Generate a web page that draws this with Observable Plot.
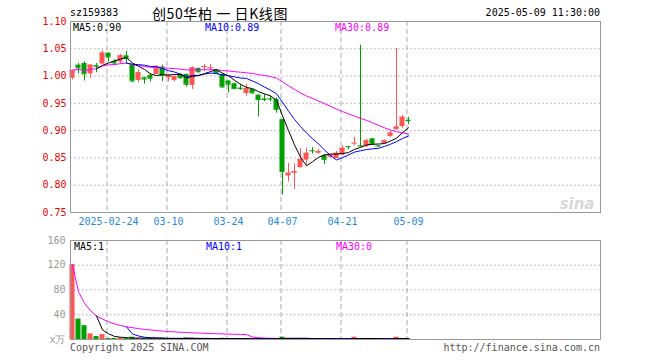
<!DOCTYPE html>
<html><head><meta charset="utf-8">
<script src="https://cdn.jsdelivr.net/npm/d3@7"></script>
<script src="https://cdn.jsdelivr.net/npm/@observablehq/plot@0.6"></script>
<style>
body{margin:0;background:#fff;}
#wrap{position:relative;width:660px;height:360px;overflow:hidden;font-family:"DejaVu Sans Mono",monospace;font-size:10px;background:#fff;}
#wrap svg{position:absolute;left:0;}
.t{position:absolute;white-space:pre;line-height:12px;}
</style></head><body><div id="wrap"></div>
<script>
// ---- data ----
const dates = ["2025-02-14","2025-02-17","2025-02-18","2025-02-19","2025-02-20","2025-02-21",
"2025-02-24","2025-02-25","2025-02-26","2025-02-27","2025-02-28",
"2025-03-03","2025-03-04","2025-03-05","2025-03-06","2025-03-07",
"2025-03-10","2025-03-11","2025-03-12","2025-03-13","2025-03-14",
"2025-03-17","2025-03-18","2025-03-19","2025-03-20","2025-03-21",
"2025-03-24","2025-03-25","2025-03-26","2025-03-27","2025-03-28",
"2025-03-31","2025-04-01","2025-04-02","2025-04-03",
"2025-04-07","2025-04-08","2025-04-09","2025-04-10","2025-04-11",
"2025-04-14","2025-04-15","2025-04-16","2025-04-17","2025-04-18",
"2025-04-21","2025-04-22","2025-04-23","2025-04-24","2025-04-25",
"2025-04-28","2025-04-29","2025-04-30",
"2025-05-06","2025-05-07","2025-05-08","2025-05-09"];
const open  = [0.996,1.020,1.023,1.004,1.0195,1.022,1.042,1.027,1.026,1.037,
1.020,0.992,0.997,1.001,1.003,1.0165,0.997,0.992,1.003,1.003,
0.983,1.014,1.016,1.014,1.0105,1.003,0.991,0.986,0.978,0.968,
0.9755,0.965,0.958,0.9585,0.957,0.920,0.817,0.822,0.832,0.846,
0.8635,0.8585,0.854,0.851,0.849,0.8555,0.8708,0.8765,0.8725,0.8708,
0.885,0.8725,0.8758,0.8893,0.9017,0.9077,0.9189];
const high  = [1.0105,1.023,1.026,1.021,1.023,1.046,1.042,1.030,1.040,1.045,
1.020,1.011,0.998,1.004,1.019,1.020,1.003,1.000,1.004,1.004,
1.017,1.015,1.0215,1.0215,1.012,1.003,0.991,0.987,0.985,0.985,
0.9755,0.966,0.966,0.963,0.960,0.920,0.840,0.839,0.867,0.868,
0.869,0.865,0.856,0.856,0.862,0.872,0.871,0.888,1.0566,0.8843,
0.886,0.8725,0.883,0.8985,1.0504,0.9275,0.9244];
const low   = [0.993,1.004,0.991,0.996,1.006,1.022,1.026,1.019,1.022,1.022,
0.988,0.988,0.985,0.989,1.003,0.990,0.9895,0.989,0.994,0.980,
0.9755,1.005,1.009,1.009,1.004,0.978,0.969,0.9755,0.974,0.963,
0.968,0.925,0.953,0.953,0.932,0.782,0.806,0.792,0.832,0.837,
0.857,0.857,0.838,0.850,0.849,0.8537,0.865,0.872,0.8695,0.869,
0.875,0.869,0.875,0.8875,0.9017,0.9046,0.911];
const close = [1.0105,1.015,1.004,1.020,1.018,1.042,1.035,1.024,1.037,1.032,
0.991,1.006,0.9945,0.996,1.017,1.001,1.001,0.999,0.997,0.985,
1.015,1.008,1.0175,1.015,1.005,0.980,0.985,0.977,0.977,0.977,
0.969,0.957,0.957,0.958,0.939,0.825,0.822,0.825,0.847,0.8585,
0.863,0.8616,0.8474,0.855,0.8585,0.8677,0.8705,0.877,0.872,0.8813,
0.875,0.872,0.8813,0.8954,0.9065,0.9244,0.9185];
const volume = [121,33,22.4,9.1,4.8,8,1.6,1.6,2.4,1.6,
3.7,2.0,1.6,1.6,1.6,2.4,1.2,1.2,1.6,2.4,
2.4,1.2,1.2,1.2,1.2,2.0,1.6,1.2,1.0,1.2,
1.0,1.6,1.0,1.0,1.2,3.7,2.0,1.6,1.6,1.2,
1.0,1.0,1.0,0.8,1.0,1.0,1.0,3.7,1.2,1.0,
1.0,0.8,1.0,1.2,3.7,1.6,1.0];
const priceTicks = [0.75,0.80,0.85,0.90,0.95,1.00,1.05,1.10];
const priceGrid  = [0.80,0.85,0.90,0.95,1.00,1.05];
const volTicks   = [0,40,80,120,160];
const volTickLabels = ["x万","40","80","120","160"];
const volGrid    = [40,80,120];
const dateTicks  = ["2025-02-24","2025-03-10","2025-03-24","2025-04-07","2025-04-21","2025-05-09"];
const dateTickLabels = ["2025-02-24","03-10","03-24","04-07","04-21","05-09"];
const priceMaLabels = ["MA5:0.90","MA10:0.89","MA30:0.89"];
const volMaLabels   = ["MA5:1","MA10:1","MA30:0"];
const maColors = ["#000000","#0000ff","#ff00ff"];
const code = "sz159383";
const title = "创50华柏 一 日K线图";
const stamp = "2025-05-09 11:30:00";

// ---- build ----
const UP = "#ff5555", DOWN = "#00a000", GRID = "#aaaaaa", FRAME = "#999999";
const rows = dates.map((d, i) => ({i, date: d, open: open[i], high: high[i], low: low[i], close: close[i], vol: volume[i], up: close[i] >= open[i]}));
const tickIdx = dateTicks.map(d => dates.indexOf(d));
const xScale = {type: "linear", domain: [-1/3, 88]};
const col = d => d.up ? UP : DOWN;
const font = {fontFamily: "DejaVu Sans Mono, monospace", fontSize: "10px", background: "transparent", overflow: "visible"};

const price = Plot.plot({
  width: 660, height: 232, marginTop: 21, marginBottom: 20, marginLeft: 70, marginRight: 60,
  style: font,
  x: {...xScale, axis: null},
  y: {domain: [0.75, 1.10], axis: null},
  marks: [
    Plot.ruleY(priceGrid, {stroke: GRID, strokeDasharray: "1.5,2.5"}),
    Plot.ruleX(tickIdx, {stroke: GRID, strokeDasharray: "5,3", dx: -1.5}),
    Plot.axisY(priceTicks, {tickFormat: d3.format(".2f"), tickSize: 0, tickPadding: 4, color: "#ee0000", label: null}),
    Plot.axisX(tickIdx, {tickFormat: (d, k) => dateTickLabels[k], tickSize: 0, tickPadding: 5, color: "#1f8ae0", label: null}),
    Plot.ruleX(rows, {x: "i", y1: "low", y2: "high", stroke: col, strokeWidth: 1}),
    Plot.rect(rows, {x1: d => d.i - 0.42, x2: d => d.i + 0.42, y1: "open", y2: "close", fill: col}),
    Plot.ruleY(rows, {y: "close", x1: d => d.i - 0.42, x2: d => d.i + 0.42, stroke: col}),
    Plot.lineY(rows, Plot.windowY({k: 30, anchor: "end", reduce: "mean", strict: false}, {x: "i", y: "close", stroke: maColors[2], strokeWidth: 1})),
    Plot.lineY(rows, Plot.windowY({k: 10, anchor: "end", reduce: "mean", strict: true}, {x: "i", y: "close", stroke: maColors[1], strokeWidth: 1})),
    Plot.lineY(rows, Plot.windowY({k: 5, anchor: "end", reduce: "mean", strict: true}, {x: "i", y: "close", stroke: maColors[0], strokeWidth: 1})),
    Plot.text(["sina"], {frameAnchor: "bottom-right", dx: -6, dy: -4, fill: "#d8d8d8", fontSize: 15, fontWeight: "bold", fontStyle: "italic", fontFamily: "DejaVu Sans"}),
    Plot.frame({stroke: FRAME})
  ]
});

const vol = Plot.plot({
  width: 660, height: 128, marginTop: 8, marginBottom: 21, marginLeft: 70, marginRight: 60,
  style: font,
  x: {...xScale, axis: null},
  y: {domain: [0, 160], axis: null},
  marks: [
    Plot.ruleY(volGrid, {stroke: GRID, strokeDasharray: "1.5,2.5"}),
    Plot.ruleX(tickIdx, {stroke: GRID, strokeDasharray: "5,3", dx: -1.5}),
    Plot.axisY(volTicks, {tickFormat: (d, k) => volTickLabels[k], tickSize: 0, tickPadding: 5, color: "#999999", label: null}),
    Plot.rect(rows, {x1: d => d.i - 0.42, x2: d => d.i + 0.42, y1: 0, y2: "vol", fill: col}),
    Plot.lineY(rows, Plot.windowY({k: 30, anchor: "end", reduce: "mean", strict: false}, {x: "i", y: "vol", stroke: maColors[2], strokeWidth: 1})),
    Plot.lineY(rows, Plot.windowY({k: 10, anchor: "end", reduce: "mean", strict: true}, {x: "i", y: "vol", stroke: maColors[1], strokeWidth: 1})),
    Plot.lineY(rows, Plot.windowY({k: 5, anchor: "end", reduce: "mean", strict: true}, {x: "i", y: "vol", stroke: maColors[0], strokeWidth: 1})),
    Plot.frame({stroke: FRAME})
  ]
});

const wrap = document.getElementById("wrap");
price.style.top = "0px";
vol.style.top = "232px";
wrap.appendChild(price);
wrap.appendChild(vol);

function label(text, x, cy, opts = {}) {
  const el = document.createElement("div");
  el.className = "t";
  el.textContent = text;
  el.style.top = (cy - 6) + "px";
  if (opts.right) el.style.right = (660 - x) + "px"; else el.style.left = x + "px";
  if (opts.color) el.style.color = opts.color;
  if (opts.font) el.style.fontFamily = opts.font;
  if (opts.spacing) el.style.letterSpacing = opts.spacing;
  if (opts.size) { el.style.fontSize = opts.size + "px"; el.style.lineHeight = (opts.size + 2) + "px"; el.style.top = (cy - (opts.size + 2) / 2) + "px"; }
  wrap.appendChild(el);
}
label(code, 70, 13);
label(title, 152, 13, {font: "'Noto Sans CJK SC', sans-serif", size: 14, spacing: "0.6px"});
label(stamp, 600, 13, {right: true});
const maX = [73, 205, 335];
priceMaLabels.forEach((t, k) => label(t, maX[k], 28, {color: maColors[k]}));
volMaLabels.forEach((t, k) => label(t, maX[k] + 1, 247, {color: maColors[k]}));
label("Copyright 2025 SINA.COM", 70, 348, {color: "#555"});
label("http://finance.sina.com.cn", 600, 348, {right: true, color: "#555"});
</script></body></html>
